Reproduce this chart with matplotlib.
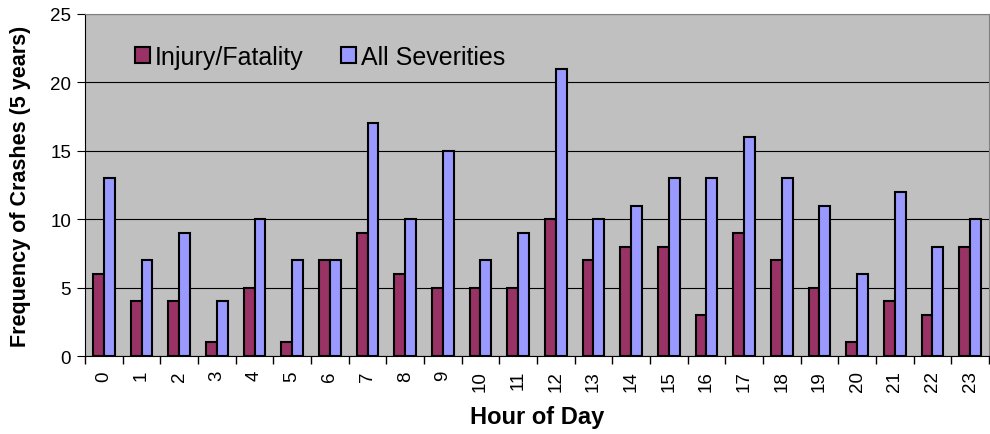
import numpy as np
from matplotlib import pyplot as plt

plt.rcParams['font.family'] = ['Liberation Sans', 'DejaVu Sans']

hours = [str(h) for h in range(24)]
injury = [6, 4, 4, 1, 5, 1, 7, 9, 6, 5, 5, 5, 10, 7, 8, 8, 3, 9, 7, 5, 1, 4, 3, 8]
allsev = [13, 7, 9, 4, 10, 7, 7, 17, 10, 15, 7, 9, 21, 10, 11, 13, 13, 16, 13, 11, 6, 12, 8, 10]

fig = plt.figure(figsize=(9.9, 4.35), dpi=100)
ax = fig.add_axes([0.0859, 0.179, 0.913, 0.787])
ax.set_facecolor('#C0C0C0')

x = np.arange(len(hours))
w = 1 / 3.5
ax.bar(x - w / 2, injury, w, color='#993366', edgecolor='black', linewidth=1.5,
       label='Injury/Fatality', zorder=3)
ax.bar(x + w / 2, allsev, w, color='#9999FF', edgecolor='black', linewidth=1.5,
       label='All Severities', zorder=3)

ax.set_xlim(-0.5, 23.5)
ax.set_ylim(0, 25)
ax.set_yticks(range(0, 26, 5))
ax.yaxis.grid(True, color='black', linewidth=0.8, zorder=0)
ax.set_xticks(x)
ax.set_xticklabels(hours, rotation=90, fontsize=13.5)
ax.set_xticks(np.arange(-0.5, 24, 1), minor=True)
ax.tick_params(axis='x', which='major', length=0, pad=10)
ax.tick_params(axis='x', which='minor', length=6, width=1)
ax.tick_params(axis='y', labelsize=13.5, length=6, direction='out', pad=4)
for s in ['top', 'right']:
    ax.spines[s].set_color('#808080')
for s in ['left', 'bottom']:
    ax.spines[s].set_color('black')

ax.set_xlabel('Hour of Day', fontsize=17, fontweight='bold', labelpad=10)
ax.set_ylabel('Frequency of Crashes (5 years)', fontsize=15.5, fontweight='bold', labelpad=14)
ax.legend(loc='upper left', bbox_to_anchor=(0.03, 0.975), ncol=2, frameon=False,
          fontsize=18, handlelength=0.6, handleheight=0.6, handletextpad=0.2,
          columnspacing=1.5)

plt.savefig('out.png', dpi=100)
